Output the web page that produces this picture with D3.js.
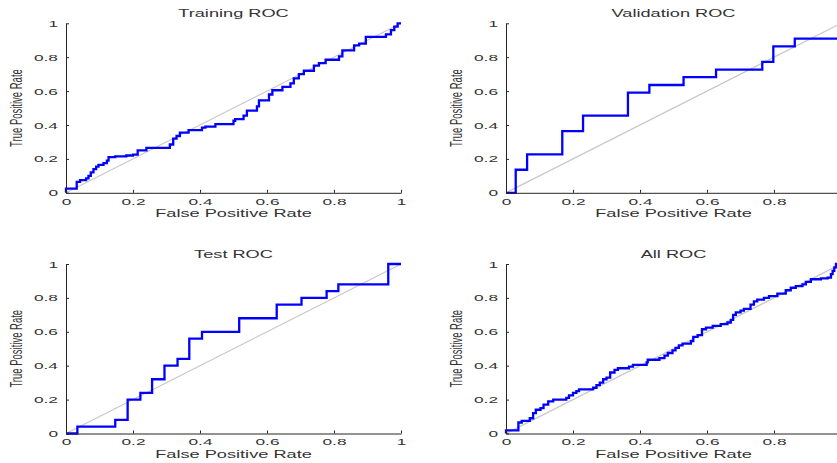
<!DOCTYPE html>
<html>
<head>
<meta charset="utf-8">
<script src="https://cdn.jsdelivr.net/npm/d3@7"></script>
<style>
  body { margin: 0; background: #fff; }
  svg { display: block; font-family: "Liberation Sans", Arial, sans-serif; }
</style>
</head>
<body>
<svg id="chart" width="837" height="463"></svg>
<script>
// tick labels shared by every panel
var tickValues = [0, 0.2, 0.4, 0.6, 0.8, 1];
var titles = ["Training ROC", "Validation ROC", "Test ROC", "All ROC"];

// ROC vertices (false positive rate / true positive rate), drawn as stairs
var trainFpr = [0, 0, 0.032, 0.042, 0.06, 0.067, 0.074, 0.082, 0.09, 0.097, 0.112, 0.122, 0.127, 0.147, 0.18, 0.2, 0.214, 0.24, 0.31, 0.32, 0.33, 0.34, 0.366, 0.406, 0.416, 0.446, 0.5, 0.505, 0.53, 0.54, 0.57, 0.576, 0.606, 0.616, 0.646, 0.67, 0.68, 0.695, 0.71, 0.74, 0.755, 0.775, 0.815, 0.825, 0.86, 0.875, 0.895, 0.955, 0.97, 0.98, 0.99, 1];
var trainTpr = [0, 0.025, 0.065, 0.075, 0.085, 0.1, 0.12, 0.14, 0.155, 0.165, 0.175, 0.19, 0.21, 0.215, 0.22, 0.225, 0.25, 0.265, 0.285, 0.32, 0.335, 0.355, 0.37, 0.385, 0.39, 0.405, 0.425, 0.435, 0.455, 0.485, 0.51, 0.545, 0.58, 0.605, 0.625, 0.645, 0.675, 0.7, 0.72, 0.75, 0.765, 0.785, 0.805, 0.84, 0.87, 0.88, 0.92, 0.935, 0.96, 0.98, 1, 1];

var valFpr = [0, 0.029, 0.063, 0.168, 0.23, 0.364, 0.428, 0.53, 0.627, 0.765, 0.798, 0.862, 1];
var valTpr = [0, 0.136, 0.227, 0.364, 0.455, 0.591, 0.636, 0.682, 0.727, 0.773, 0.864, 0.909, 1];

var testFpr = [0, 0.034, 0.147, 0.184, 0.222, 0.257, 0.294, 0.333, 0.368, 0.406, 0.517, 0.629, 0.703, 0.778, 0.813, 0.962, 1];
var testTpr = [0, 0.04, 0.08, 0.2, 0.24, 0.32, 0.4, 0.44, 0.56, 0.6, 0.68, 0.76, 0.8, 0.84, 0.88, 1, 1];

var allFpr = [0, 0, 0.037, 0.047, 0.071, 0.081, 0.089, 0.103, 0.112, 0.126, 0.141, 0.18, 0.188, 0.2, 0.21, 0.218, 0.26, 0.27, 0.28, 0.29, 0.3, 0.311, 0.324, 0.334, 0.367, 0.379, 0.42, 0.423, 0.458, 0.473, 0.483, 0.497, 0.506, 0.516, 0.527, 0.552, 0.559, 0.572, 0.585, 0.597, 0.617, 0.641, 0.661, 0.671, 0.678, 0.686, 0.7, 0.71, 0.73, 0.74, 0.75, 0.77, 0.785, 0.81, 0.835, 0.85, 0.865, 0.885, 0.895, 0.91, 0.94, 0.96, 0.97, 0.975, 0.98, 0.985, 1];
var allTpr = [0, 0.018, 0.065, 0.075, 0.09, 0.12, 0.14, 0.15, 0.17, 0.19, 0.2, 0.21, 0.225, 0.24, 0.25, 0.26, 0.27, 0.285, 0.3, 0.32, 0.33, 0.36, 0.375, 0.385, 0.395, 0.405, 0.42, 0.435, 0.445, 0.46, 0.475, 0.49, 0.505, 0.52, 0.53, 0.545, 0.57, 0.58, 0.615, 0.625, 0.635, 0.645, 0.655, 0.67, 0.7, 0.715, 0.725, 0.735, 0.76, 0.78, 0.79, 0.8, 0.81, 0.825, 0.845, 0.86, 0.87, 0.88, 0.895, 0.91, 0.915, 0.92, 0.94, 0.96, 0.98, 1, 1];

var curves = [[trainFpr, trainTpr], [valFpr, valTpr], [testFpr, testTpr], [allFpr, allTpr]];

// layout: the original figure is stretched sideways, text too
var SX = 1.82;
var W = 837;
var lefts = [66, 506], tops = [23.3, 264];
var plotW = 335, plotH = 169.5;

var svg = d3.select("#chart");
svg.append("rect").attr("width", W).attr("height", 463).attr("fill", "#fff");

function stretched(g, x, y, txt, size, anchor) {
  return g.append("text")
    .attr("transform", "translate(" + x + "," + y + ") scale(" + SX + ",1)")
    .attr("text-anchor", anchor)
    .attr("font-size", size)
    .attr("fill", "#333")
    .text(txt);
}

titles.forEach(function (title, i) {
  var x0 = lefts[i % 2], y0 = tops[Math.floor(i / 2)];
  var g = svg.append("g").attr("transform", "translate(" + x0 + "," + y0 + ")");
  var x = d3.scaleLinear().domain([0, 1]).range([0, plotW]);
  var y = d3.scaleLinear().domain([0, 1]).range([plotH, 0]);

  // diagonal reference line
  g.append("line")
    .attr("x1", x(0)).attr("y1", y(0)).attr("x2", x(1)).attr("y2", y(1))
    .attr("stroke", "#c8c8c8").attr("stroke-width", 1.2);

  var pts = d3.zip(curves[i][0], curves[i][1]);
  var line = d3.line()
    .x(function (d) { return x(d[0]); })
    .y(function (d) { return y(d[1]); })
    .curve(d3.curveStepAfter);
  g.append("path")
    .datum(pts)
    .attr("d", line)
    .attr("fill", "none")
    .attr("stroke", "#0000ff")
    .attr("stroke-width", 2.3);

  var fmt = function (d) { return String(d); };
  var xa = g.append("g").attr("transform", "translate(0," + plotH + ")")
    .call(d3.axisBottom(x).tickValues(tickValues).tickFormat(fmt).tickSizeInner(-3).tickSizeOuter(0).tickPadding(5));
  var ya = g.append("g")
    .call(d3.axisLeft(y).tickValues(tickValues).tickFormat(fmt).tickSizeInner(-3).tickSizeOuter(0).tickPadding(8));

  [xa, ya].forEach(function (a) {
    a.select(".domain").attr("stroke", "#262626");
    a.selectAll(".tick line").attr("stroke", "#262626");
    a.selectAll("text").attr("font-size", 9.5).attr("font-family", null).attr("fill", "#333");
  });
  xa.selectAll("text").attr("transform", "scale(" + SX + ",1)");
  ya.selectAll("text").attr("x", -8 / SX).attr("transform", "scale(" + SX + ",1)");
  // labels that fall past the right edge of the figure are not shown in the original
  xa.selectAll(".tick").filter(function (d) { return x0 + x(d) + 6 > W; }).select("text").remove();

  stretched(g, plotW / 2, -6.5, title, 10, "middle");
  stretched(g, plotW / 2, plotH + 24, "False Positive Rate", 10, "middle");

  g.append("text")
    .attr("transform", "translate(-44," + plotH / 2 + ") scale(" + SX + ",1) rotate(-90)")
    .attr("text-anchor", "middle")
    .attr("font-size", 9.5)
    .attr("fill", "#333")
    .text("True Positive Rate");
});
</script>
</body>
</html>
